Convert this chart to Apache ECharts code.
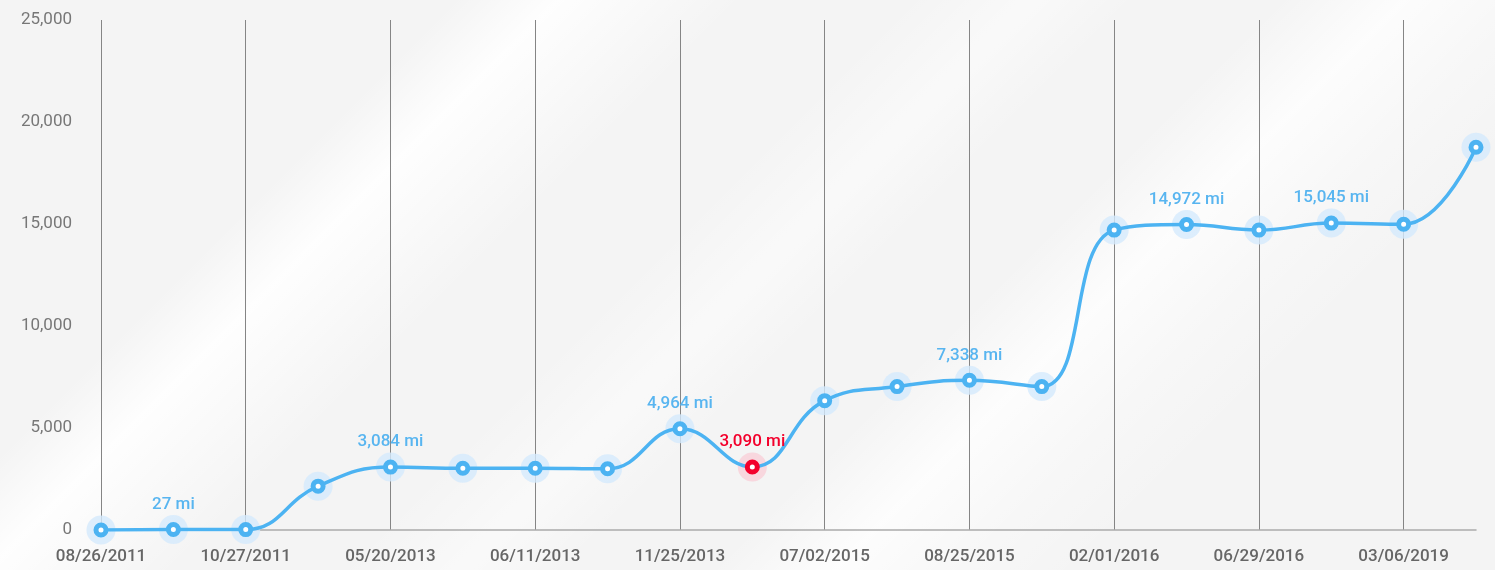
<!DOCTYPE html>
<html>
<head>
<meta charset="utf-8">
<script src="https://cdn.jsdelivr.net/npm/echarts@6/dist/echarts.min.js"></script>
<style>
    html, body {
        margin: 0;
        padding: 0;
    }
    body {
        background-color: #f4f4f4;
        background-image:
            linear-gradient(135deg, rgba(255,255,255,0) 22%, rgba(255,255,255,0.9) 27%, rgba(255,255,255,0.5) 31%, rgba(255,255,255,0) 36%),
            linear-gradient(135deg, rgba(255,255,255,0) 44%, rgba(255,255,255,0.5) 50%, rgba(255,255,255,0) 55%),
            linear-gradient(135deg, rgba(255,255,255,0) 62%, rgba(255,255,255,0.8) 68%, rgba(255,255,255,0.3) 74%, rgba(255,255,255,0) 80%);
    }
    .chart {
        width: 1495px;
        height: 570px;
    }
</style>
</head>
<body>
<div id="mileChart" class="chart"></div>
<script>
// categories (only every other one is labelled on the axis)
const dates = [
    '08/26/2011', '09/30/2011', '10/27/2011', '03/14/2012', '05/20/2013',
    '05/29/2013', '06/11/2013', '08/02/2013', '11/25/2013', '04/10/2014',
    '07/02/2015', '07/28/2015', '08/25/2015', '11/12/2015', '02/01/2016',
    '04/18/2016', '06/29/2016', '03/22/2017', '03/06/2019', '08/14/2019'
];
// miles
const miles = [
    0, 27, 20, 2150, 3084, 3030, 3030, 3000, 4964, 3090,
    6340, 7030, 7338, 7030, 14700, 14972, 14700, 15045, 14990, 18760
];
// points that carry a value label
const labelIdx = [1, 4, 8, 9, 12, 15, 17];
// point drawn in red
const alertIdx = 9;
const yTicks = { min: 0, max: 25000, interval: 5000 };

const blue = '#4cb3f2',
    blueHalo = '#d5eafc',
    red = '#f3002c',
    redHalo = '#f9d0d8';

const fmt = (v) => v.toLocaleString('en-US');

const lineData = miles.map((v, i) => {
    const isAlert = i === alertIdx;
    return {
        value: v,
        itemStyle: {
            color: '#fff',
            borderColor: isAlert ? red : blue,
            borderWidth: 5,
        },
        label: {
            show: labelIdx.includes(i),
            color: isAlert ? red : '#58b5f0',
        },
    };
});
const haloData = miles.map((v, i) => ({
    value: v,
    itemStyle: { color: i === alertIdx ? redHalo : blueHalo },
}));

const option = {
    animation: false,
    grid: {
        top: 20,
        left: 101,
        right: 19,
        bottom: 40,
    },
    xAxis: {
        type: 'category',
        data: dates,
        boundaryGap: false,
        axisLine: {
            lineStyle: { color: '#aaa', width: 1.5 },
        },
        axisTick: { show: false },
        axisLabel: {
            interval: 1,
            color: '#666',
            fontSize: 17,
            fontWeight: 500,
            fontFamily: 'Roboto',
            margin: 18,
        },
        splitLine: {
            show: true,
            interval: 1,
            lineStyle: { color: '#858585', width: 1 },
        },
    },
    yAxis: {
        type: 'value',
        min: yTicks.min,
        max: yTicks.max,
        interval: yTicks.interval,
        axisLine: { show: false },
        axisTick: { show: false },
        splitLine: { show: false },
        axisLabel: {
            color: '#777',
            fontSize: 17,
            fontFamily: 'Roboto',
            margin: 29,
            formatter: (v) => fmt(v),
        },
    },
    series: [
        {
            name: 'halo',
            type: 'scatter',
            data: haloData,
            symbolSize: 29,
            z: 1,
            silent: true,
        },
        {
            name: 'miles',
            type: 'line',
            data: lineData,
            smooth: 0.45,
            symbol: 'circle',
            symbolSize: 10,
            showSymbol: true,
            z: 2,
            lineStyle: { color: blue, width: 3.5 },
            label: {
                position: 'top',
                distance: 9,
                fontSize: 17,
                fontWeight: 500,
                fontFamily: 'Roboto',
                formatter: (p) => fmt(p.value) + ' mi',
            },
            emphasis: { disabled: true },
        },
    ],
};

const myChart = echarts.init(document.getElementById('mileChart'));
myChart.setOption(option);
</script>
</body>
</html>
